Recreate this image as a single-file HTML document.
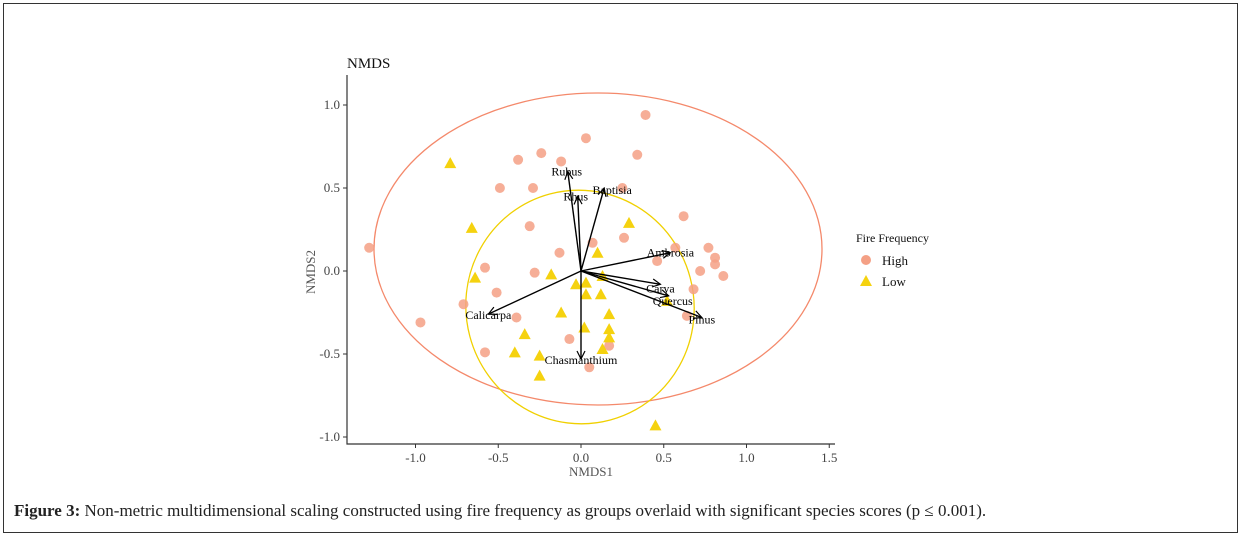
<!DOCTYPE html>
<html><head><meta charset="utf-8"><style>
body{margin:0;background:#fff;width:1242px;height:541px;overflow:hidden;font-family:"Liberation Serif",serif}
#frame{position:absolute;left:3px;top:3px;width:1233px;height:528px;border:1px solid #333}
#cap{position:absolute;left:14px;top:501px;font-size:17px;color:#222;white-space:nowrap}
</style></head><body>
<div id="frame"></div>
<svg id="chart" width="1242" height="541" style="position:absolute;left:0;top:0" font-family="Liberation Serif, serif"></svg>
<div id="cap"><b>Figure 3:</b> Non-metric multidimensional scaling constructed using fire frequency as groups overlaid with significant species scores (p ≤ 0.001).</div>
<script>
const xTicks=[-1.0,-0.5,0.0,0.5,1.0,1.5];
const yTicks=[1.0,0.5,0.0,-0.5,-1.0];
const highX=[-1.28,-0.97,-0.71,-0.58,-0.58,-0.51,-0.49,-0.39,-0.38,-0.31,-0.29,-0.28,-0.24,-0.13,-0.12,-0.07,0.03,0.05,0.07,0.25,0.26,0.34,0.39,0.46,0.57,0.62,0.68,0.72,0.77,0.81,0.81,0.86,0.64,0.17];
const highY=[0.14,-0.31,-0.20,0.02,-0.49,-0.13,0.50,-0.28,0.67,0.27,0.50,-0.01,0.71,0.11,0.66,-0.41,0.80,-0.58,0.17,0.50,0.20,0.70,0.94,0.06,0.14,0.33,-0.11,0.00,0.14,0.08,0.04,-0.03,-0.27,-0.45];
const lowX=[-0.79,-0.66,-0.64,-0.34,-0.40,-0.25,-0.25,-0.18,-0.12,-0.03,0.03,0.03,0.02,0.12,0.13,0.17,0.17,0.17,0.10,0.29,0.13,0.45,0.52];
const lowY=[0.65,0.26,-0.04,-0.38,-0.49,-0.51,-0.63,-0.02,-0.25,-0.08,-0.07,-0.14,-0.34,-0.14,-0.47,-0.26,-0.35,-0.40,0.11,0.29,-0.03,-0.93,-0.18];
const spNames=["Rubus","Rhus","Baptisia","Ambrosia","Carya","Quercus","Pinus","Calicarpa","Chasmanthium"];
const spX=[-0.08,-0.02,0.14,0.54,0.48,0.53,0.73,-0.56,0.0];
const spY=[0.60,0.45,0.50,0.11,-0.08,-0.15,-0.28,-0.26,-0.53];
const X0=581,Y0=271,SX=165.5,SY=166;
const sx=v=>X0+v*SX, sy=v=>Y0-v*SY;
const svg=document.getElementById('chart'),NS='http://www.w3.org/2000/svg';
function mk(t,a,p){const e=document.createElementNS(NS,t);for(const k in a)e.setAttribute(k,a[k]);(p||svg).appendChild(e);return e;}
let e1=mk('ellipse',{cx:598,cy:249,rx:224,ry:156,fill:'none',stroke:'#f4896b','stroke-width':1.3});


let e2=mk('ellipse',{cx:580,cy:307,rx:114,ry:117,transform:'rotate(-15 580 307)',fill:'none',stroke:'#f0d000','stroke-width':1.3});


let ax=mk('path',{d:'M347,75 V444 H835',fill:'none',stroke:'#333','stroke-width':1.2});


xTicks.forEach(v=>{mk('line',{x1:sx(v),x2:sx(v),y1:444,y2:448,stroke:'#333'});
 let t=mk('text',{x:sx(v),y:462,'text-anchor':'middle','font-size':13,fill:'#444'});t.textContent=v.toFixed(1);
 
 });
yTicks.forEach(v=>{mk('line',{x1:343,x2:347,y1:sy(v),y2:sy(v),stroke:'#333'});
 let t=mk('text',{x:340,y:sy(v)+4,'text-anchor':'end','font-size':13,fill:'#444'});t.textContent=v.toFixed(1);
 
 });
let xt=mk('text',{x:591,y:476,'text-anchor':'middle','font-size':13,fill:'#555'});xt.textContent='NMDS1';


let yt=mk('text',{x:315,y:272,'text-anchor':'middle','font-size':13,fill:'#555',transform:'rotate(-90 315 272)'});yt.textContent='NMDS2';


let tt=mk('text',{x:347,y:68,'font-size':15,fill:'#111'});tt.textContent='NMDS';


highX.forEach((v,i)=>{let c=mk('circle',{cx:sx(v),cy:sy(highY[i]),r:5,fill:'#f4a085','fill-opacity':0.85});
 
 });
function tri(x,y){return `${x},${y-6} ${x-6},${y+5} ${x+6},${y+5}`;}
lowX.forEach((v,i)=>{let p=mk('polygon',{points:tri(sx(v),sy(lowY[i])),fill:'#f5d20f'});
 
 });
mk('defs',{}).innerHTML='<marker id="ah" markerWidth="10" markerHeight="10" refX="9" refY="5" orient="auto" markerUnits="userSpaceOnUse"><path d="M1,1 L9,5 L1,9" fill="none" stroke="#000" stroke-width="1.2"/></marker>';
const off={Rubus:[-1,4],Rhus:[-2,4],Baptisia:[8,6],Ambrosia:[0,4],Carya:[0,8],Quercus:[4,9],Pinus:[0,6],Calicarpa:[0,5],Chasmanthium:[0,5]};
spNames.forEach((n,i)=>{let l=mk('line',{x1:X0,y1:Y0,x2:sx(spX[i]),y2:sy(spY[i]),stroke:'#000','stroke-width':1.4,'marker-end':'url(#ah)'});
 
 
 let t=mk('text',{x:sx(spX[i])+off[n][0],y:sy(spY[i])+off[n][1],'text-anchor':'middle','font-size':12,fill:'#000'});t.textContent=n;
 
 });
let lg=mk('g',{});


mk('text',{x:856,y:242,'font-size':12,fill:'#111'},lg).textContent='Fire Frequency';
let c=mk('circle',{cx:866,cy:260,r:5,fill:'#f4a085'},lg);


mk('text',{x:882,y:265,'font-size':13,fill:'#111'},lg).textContent='High';
let p=mk('polygon',{points:tri(866,281),fill:'#f5d20f'},lg);


mk('text',{x:882,y:286,'font-size':13,fill:'#111'},lg).textContent='Low';
</script>
</body></html>
